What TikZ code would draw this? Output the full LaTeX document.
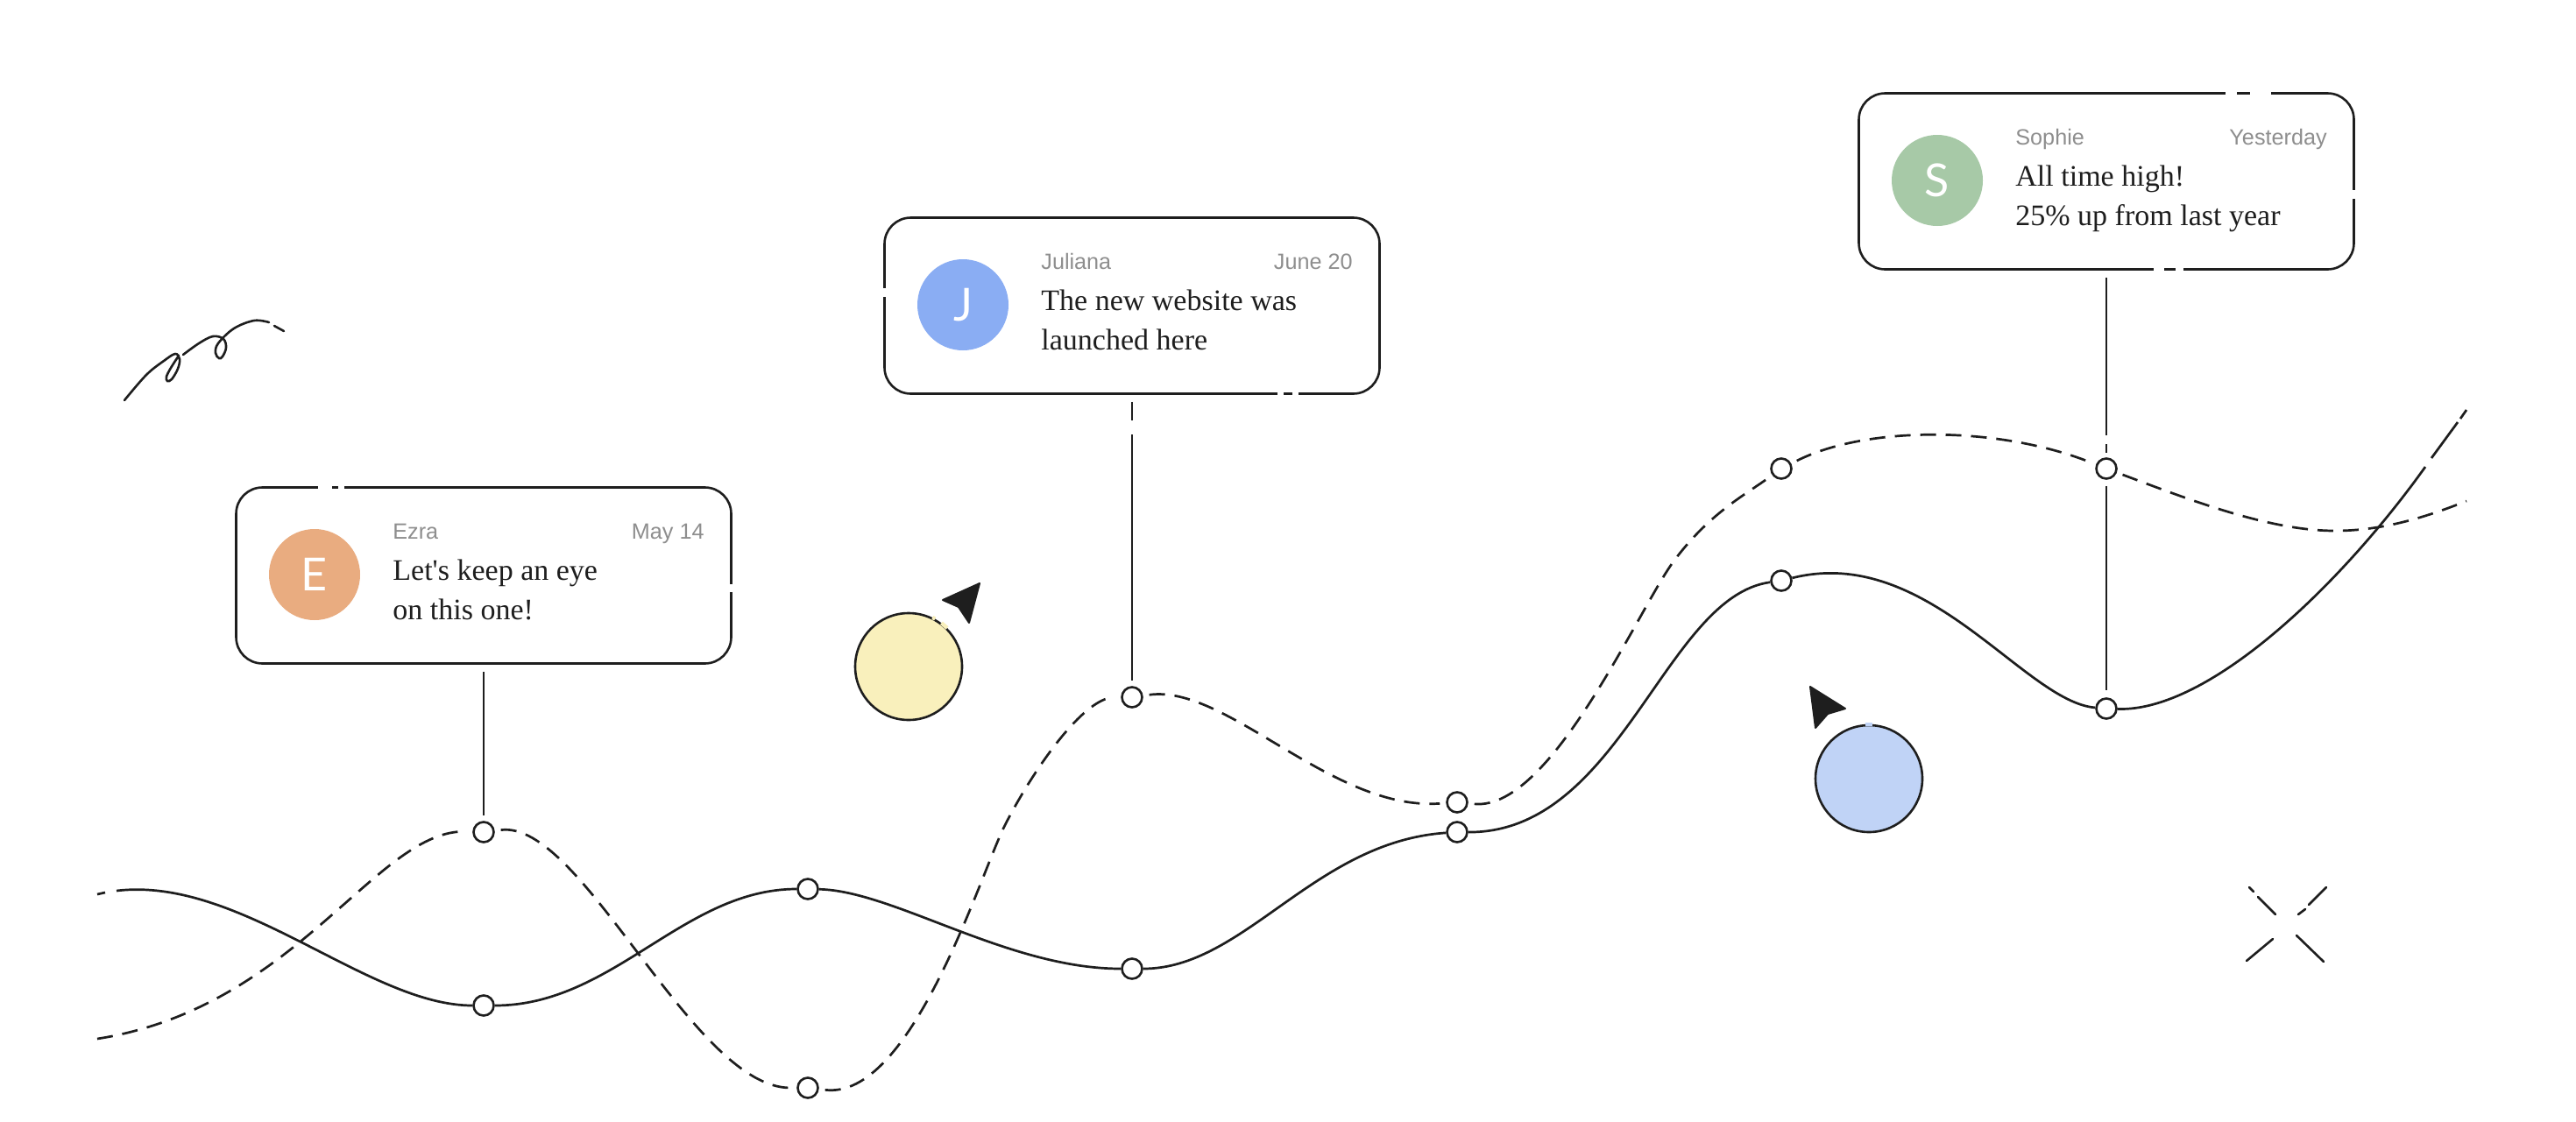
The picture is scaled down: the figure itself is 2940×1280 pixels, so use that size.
\documentclass[tikz,border=0pt]{standalone}
\usepackage{fontspec}
\newfontfamily\cardmsg{Liberation Serif}
\newfontfamily\cardmeta{Liberation Sans}
\newfontfamily\cardletter{Lato}
\definecolor{ink}{HTML}{1E1E1E}
\definecolor{metagray}{HTML}{8E8E8E}
\definecolor{peach}{HTML}{E9AC80}
\definecolor{cornflower}{HTML}{8AADF3}
\definecolor{sage}{HTML}{A7C9A7}
\definecolor{butter}{HTML}{F9F0BC}
\definecolor{sky}{HTML}{C0D3F6}
\tikzset{
  card/.style={draw=ink, line width=1.3pt, fill=white, rounded corners=15pt, minimum width=282.5pt, minimum height=100.5pt},
  avatar/.style={circle, fill=#1, text=white, minimum size=52pt, inner sep=0pt, font=\cardletter\fontsize{26}{28}\selectfont},
  who/.style={inner sep=0pt, text=metagray, font=\cardmeta\fontsize{12.6}{15}\selectfont},
  msg/.style={inner sep=0pt, text=ink, anchor=base west, font=\cardmsg\fontsize{17}{20}\selectfont},
  dot/.style={circle, draw=ink, line width=1.3pt, fill=white, minimum size=11.5pt, inner sep=0pt},
  blob/.style={circle, draw=ink, line width=1.3pt, fill=#1, minimum size=61pt, inner sep=0pt},
  trend/.style={draw=ink, line width=1.35pt},
  dashtrend/.style={trend, dash pattern=on 9pt off 5.5pt, shorten <=3.5pt, shorten >=3.5pt},
  link/.style={draw=ink, line width=1.3pt},
  pencil/.style={draw=ink, line width=1.3pt, line cap=round},
  cutmark/.style={draw=white, line width=2.2pt},
}
\begin{document}
\begin{tikzpicture}[x=0.5pt, y=-0.5pt]
  \useasboundingbox (0,0) rectangle (2940,1280);

  \foreach \card/\cx/\cy/\shade/\letter/\name/\when/\lineone/\linetwo in {
    ezra/552/657/peach/E/Ezra/May 14/Let's keep an eye/on this one!,
    juliana/1292/349/cornflower/J/Juliana/June 20/The new website was/launched here,
    sophie/2404/207/sage/S/Sophie/Yesterday/All time high!/25\% up from last year} {
    \node[card] (\card) at (\cx,\cy) {};
    \begin{scope}[shift={(\cx,\cy)}]
      \node[avatar=\shade] (\card-face) at (-193,-1) {\letter};
      \node[who, anchor=base west] (\card-name) at (-104,-42) {\name};
      \node[who, anchor=base east] (\card-when) at (252,-42) {\when};
      \node[msg] (\card-one) at (-104,5) {\lineone};
      \node[msg] (\card-two) at (-104,50) {\linetwo};
    \end{scope}
  }

  \foreach \xa/\ya/\xb/\yb in {363/556/379/556, 386/556/393/556, 835/667/835/676,
    1009/329/1009/339, 1458/450/1465/450, 1475/450/1482/450,
    2540/106/2553/106, 2568/106/2592/106, 2686/217/2686/227, 2458/308/2470/308, 2483/308/2492/308} {
    \draw[cutmark] (\xa,\ya) -- (\xb,\yb);
  }

  \foreach \i/\x/\y in {1/552/1148, 2/922/1015, 3/1292/1106, 4/1663/950, 5/2033/663, 6/2404/809} {
    \node[dot] (s\i) at (\x,\y) {};
  }
  \foreach \i/\x/\y in {1/552/950, 2/922/1242, 3/1292/796, 4/1663/916, 5/2033/535, 6/2404/535} {
    \node[dot] (d\i) at (\x,\y) {};
  }

  \coordinate (sa) at (111,1021);
  \coordinate (sb) at (120,1019);
  \coordinate (sc) at (133,1017);
  \coordinate (se) at (2768,533);
  \coordinate (sf) at (2775,523);
  \coordinate (sg) at (2805,482);
  \coordinate (sh) at (2808,478);
  \coordinate (si) at (2815,468);
  \draw[trend] (sa) -- (sb);
  \draw[trend] (sc) .. controls (275,1000) and (420,1148) .. (s1);
  \draw[trend] (s1) .. controls (700,1148) and (780,1015) .. (s2);
  \draw[trend] (s2) .. controls (1020,1017) and (1150,1106) .. (s3);
  \draw[trend] (s3) .. controls (1420,1106) and (1500,961) .. (s4);
  \draw[trend] (s4) .. controls (1850,951) and (1900,681) .. (s5);
  \draw[trend] (s5) .. controls (2200,621) and (2310,801) .. (s6);
  \draw[trend] (s6) .. controls (2520,813) and (2670,670) .. (se);
  \draw[trend] (sf) -- (sg);
  \draw[trend] (sh) -- (si);

  \coordinate (da) at (111,1186);
  \coordinate (dq) at (1146,944);
  \coordinate (dr) at (1910,641);
  \coordinate (dm) at (2665,606);
  \coordinate (dz) at (2815,572);
  \draw[dashtrend, shorten <=0pt] (da) .. controls (340,1150) and (430,946) .. (d1);
  \draw[dashtrend] (d1) .. controls (665,936) and (790,1242) .. (d2);
  \draw[dashtrend] (d2) .. controls (1040,1256) and (1118,1001) .. (dq)
    .. controls (1175,886) and (1235,796) .. (d3);
  \draw[dashtrend] (d3) .. controls (1400,781) and (1520,926) .. (d4);
  \draw[dashtrend] (d4) .. controls (1770,926) and (1870,695) .. (dr)
    .. controls (1950,587) and (1990,566) .. (d5);
  \draw[dashtrend] (d5) .. controls (2130,486) and (2280,486) .. (d6);
  \draw[dashtrend, shorten >=0pt] (d6) .. controls (2500,571) and (2590,606) .. (dm)
    .. controls (2720,606) and (2770,590) .. (dz);

  \coordinate (jcut) at (1292,488);
  \coordinate (scut) at (2404,497);
  \draw[link, shorten <=4pt, shorten >=3pt] (ezra) -- (d1);
  \draw[link, shorten <=4pt, shorten >=4pt] (juliana) -- (jcut);
  \draw[link, shorten <=4pt, shorten >=3pt] (jcut) -- (d3);
  \draw[link, shorten <=4pt] (sophie) -- (scut);
  \draw[link, shorten <=5pt, shorten >=2.5pt] (scut) -- (d6);
  \draw[link, shorten <=3.5pt, shorten >=4pt] (d6) -- (s6);

  \node[blob=butter] (sun) at (1037,761) {};
  \node[blob=sky] (moon) at (2133,889) {};
  \draw[draw=butter, line width=2.2pt] (sun.64) -- (sun.61);
  \draw[draw=butter, line width=2.2pt] (sun.53) -- (sun.45);
  \draw[draw=sky, line width=2.2pt] (moon.94) -- (moon.86);
  \fill[ink, draw=ink, line width=1pt, line join=round] (1118,666) -- (1076,685) -- (1094,693) -- (1106,711) -- cycle;
  \fill[ink, draw=ink, line width=1pt, line join=round] (2066,784) -- (2106,809) -- (2086,815) -- (2072,831) -- cycle;

  \draw[pencil] plot[smooth, tension=0.6] coordinates {(142,457) (167,428) (187,412) (200,404) (205,410) (203,421) (196,433) (191,435) (190,430) (195,420) (204,406)};
  \draw[pencil] plot[smooth, tension=0.6] coordinates {(209,405) (227,392) (243,384) (255,387) (258,397) (254,407) (250,409) (246,403) (249,392) (267,375) (290,366) (307,368)};
  \draw[pencil] (313,372) -- (324,378);

  \foreach \xa/\ya/\xb/\yb in {2567/1013/2572/1018, 2577/1024/2597/1044, 2655/1013/2635/1033,
    2631/1038/2623/1044, 2564/1097/2594/1072, 2621/1068/2652/1098} {
    \draw[pencil] (\xa,\ya) -- (\xb,\yb);
  }
\end{tikzpicture}
\end{document}
